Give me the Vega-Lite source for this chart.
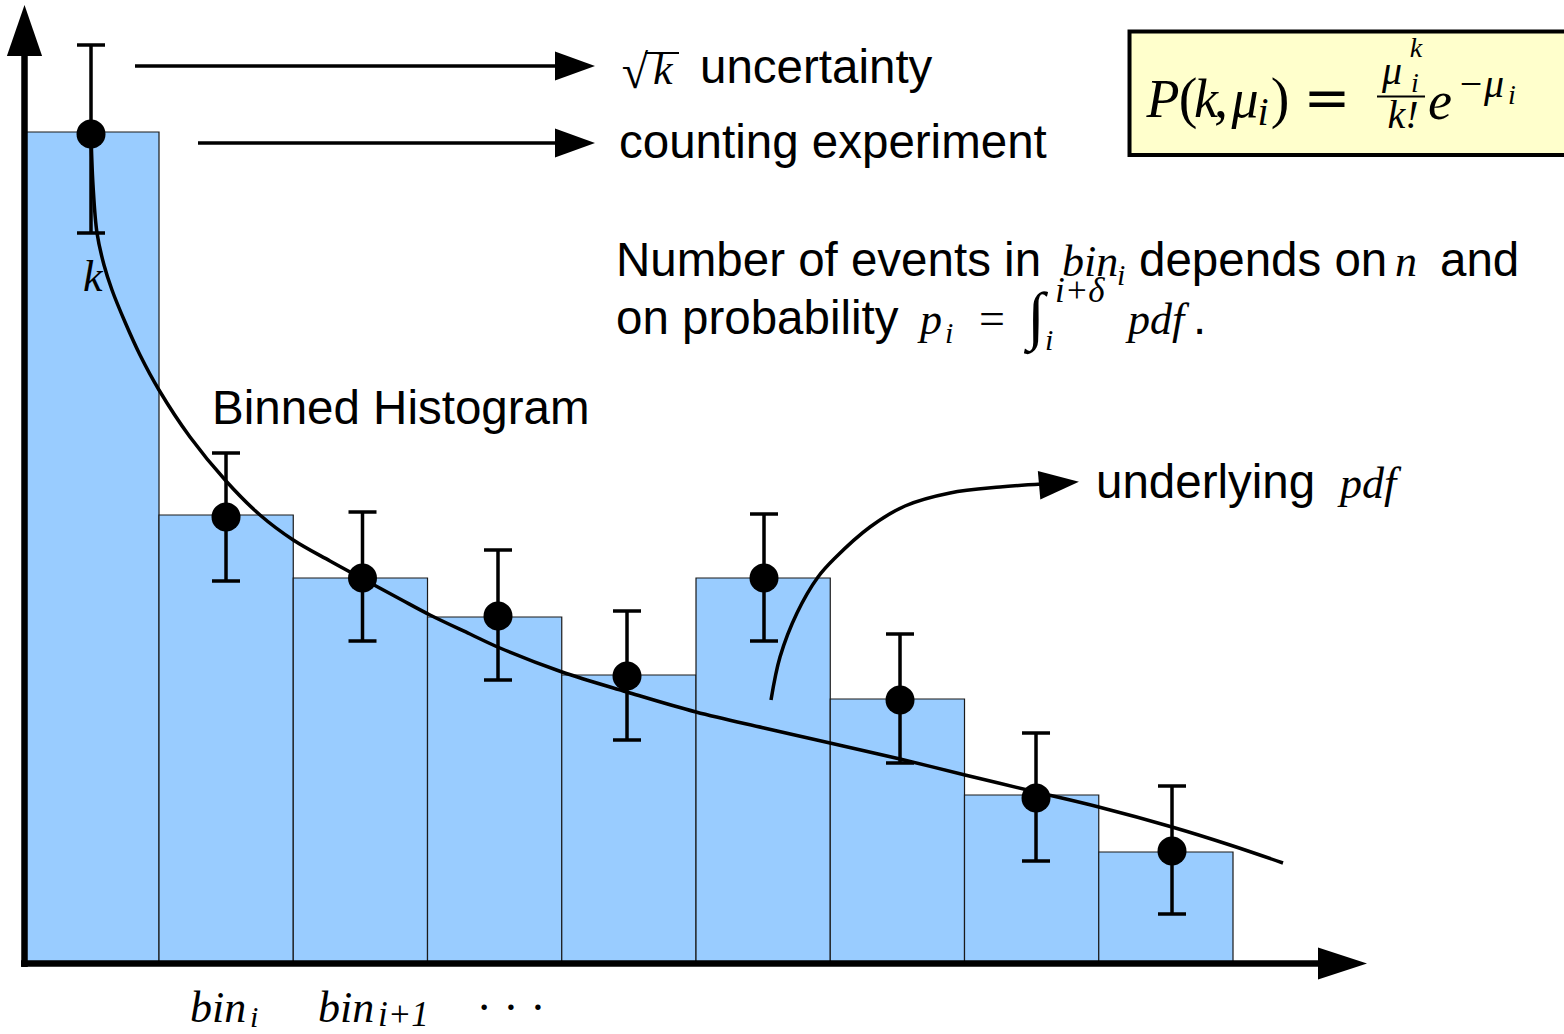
{
  "$schema": "https://vega.github.io/schema/vega-lite/v6.json",
  "width": 1564,
  "height": 1034,
  "autosize": {"type": "none"},
  "padding": 0,
  "background": "white",
  "config": {"view": {"stroke": null}},
  "datasets": {
    "box": [{"x": 8.2291, "x2": 11.7, "y": 93.05, "y2": 80.7}],
    "bars": [
      {"x": 0, "x2": 1, "y": 83.0},
      {"x": 1, "x2": 2, "y": 44.7},
      {"x": 2, "x2": 3, "y": 38.4},
      {"x": 3, "x2": 4, "y": 34.5},
      {"x": 4, "x2": 5, "y": 28.7},
      {"x": 5, "x2": 6, "y": 38.4},
      {"x": 6, "x2": 7, "y": 26.3},
      {"x": 7, "x2": 8, "y": 16.7},
      {"x": 8, "x2": 9, "y": 11.0}
    ],
    "lines": [
      {"kind": "axis", "x": -0.0019, "y": -0.5, "x2": -0.0019, "y2": 90.6},
      {"kind": "axis", "x": -0.0279, "y": -0.15, "x2": 9.648, "y2": -0.15},
      {"kind": "pointer", "x": 0.8212, "y": 89.6, "x2": 3.9572, "y2": 89.6},
      {"kind": "pointer", "x": 1.2905, "y": 81.9, "x2": 3.9572, "y2": 81.9},
      {"kind": "thin", "x": 4.6201, "y": 90.9, "x2": 4.8734, "y2": 90.9},
      {"kind": "thin", "x": 10.0726, "y": 86.55, "x2": 10.4302, "y2": 86.55}
    ],
    "pdf": [
      {"x": 0.4935, "y": 82.8},
      {"x": 0.5084, "y": 77.7},
      {"x": 0.5382, "y": 72.9},
      {"x": 0.5903, "y": 69.7},
      {"x": 0.6499, "y": 67.2},
      {"x": 0.7467, "y": 64.0},
      {"x": 0.8585, "y": 60.7},
      {"x": 1.0, "y": 57.2},
      {"x": 1.2309, "y": 52.5},
      {"x": 1.4991, "y": 48.1},
      {"x": 1.7523, "y": 44.7},
      {"x": 2.0, "y": 42.2},
      {"x": 2.2737, "y": 40.1},
      {"x": 2.5196, "y": 38.3},
      {"x": 2.7952, "y": 36.3},
      {"x": 3.0186, "y": 34.7},
      {"x": 3.3166, "y": 32.8},
      {"x": 3.54, "y": 31.4},
      {"x": 4.0019, "y": 29.0},
      {"x": 4.486, "y": 27.0},
      {"x": 5.0, "y": 25.0},
      {"x": 5.5065, "y": 23.4},
      {"x": 5.9981, "y": 21.9},
      {"x": 6.5196, "y": 20.3},
      {"x": 7.0037, "y": 18.7},
      {"x": 7.5326, "y": 17.0},
      {"x": 8.0, "y": 15.5},
      {"x": 8.5456, "y": 13.5},
      {"x": 8.9777, "y": 11.7},
      {"x": 9.3724, "y": 9.9}
    ],
    "curvedArrow": [
      {"x": 5.5587, "y": 26.2},
      {"x": 5.6257, "y": 30.5},
      {"x": 5.7523, "y": 34.9},
      {"x": 5.9088, "y": 38.5},
      {"x": 6.0354, "y": 40.4},
      {"x": 6.2961, "y": 43.5},
      {"x": 6.5568, "y": 45.6},
      {"x": 6.892, "y": 46.9},
      {"x": 7.2644, "y": 47.5},
      {"x": 7.5773, "y": 47.8}
    ],
    "errors": [
      {"x": 0.4935, "y": 82.8, "lo": 72.9, "hi": 91.7},
      {"x": 1.4991, "y": 44.5, "lo": 38.1, "hi": 50.9},
      {"x": 2.5158, "y": 38.4, "lo": 32.1, "hi": 45.0},
      {"x": 3.5251, "y": 34.6, "lo": 28.2, "hi": 41.2},
      {"x": 4.486, "y": 28.6, "lo": 22.2, "hi": 35.1},
      {"x": 5.5065, "y": 38.4, "lo": 32.1, "hi": 44.8},
      {"x": 6.5196, "y": 26.2, "lo": 19.9, "hi": 32.8},
      {"x": 7.5326, "y": 16.4, "lo": 10.1, "hi": 22.9},
      {"x": 8.5456, "y": 11.1, "lo": 4.8, "hi": 17.6}
    ],
    "heads": [
      {"dir": "up", "x": -0.0019, "y": 93.15},
      {"dir": "xaxis", "x": 9.8156, "y": -0.15},
      {"dir": "pointer", "x": 4.0987, "y": 89.6},
      {"dir": "pointer", "x": 4.0987, "y": 81.9},
      {"dir": "curved", "x": 7.7039, "y": 47.85}
    ],
    "texts": [
      {"kind": "label", "t": "uncertainty", "x": 5.0298, "y": 87.9},
      {"kind": "label", "t": "counting experiment", "x": 4.4265, "y": 80.4},
      {"kind": "label", "t": "Number of events in", "x": 4.4041, "y": 68.6},
      {"kind": "label", "t": "depends on", "x": 8.2998, "y": 68.6},
      {"kind": "label", "t": "and", "x": 10.5419, "y": 68.6},
      {"kind": "label", "t": "on probability", "x": 4.4041, "y": 62.8},
      {"kind": "label", "t": ".", "x": 8.702, "y": 62.8},
      {"kind": "label", "t": "Binned Histogram", "x": 1.3948, "y": 53.8},
      {"kind": "label", "t": "underlying", "x": 7.9795, "y": 46.4},
      {"kind": "math", "t": "k", "x": 4.6797, "y": 87.8},
      {"kind": "math", "t": "k", "x": 0.4339, "y": 67.1},
      {"kind": "math", "t": "bin", "x": 7.7263, "y": 68.6},
      {"kind": "math", "t": "n", "x": 10.2067, "y": 68.6},
      {"kind": "math", "t": "p", "x": 6.6685, "y": 62.8},
      {"kind": "math", "t": "pdf", "x": 8.2179, "y": 62.8},
      {"kind": "math", "t": "pdf", "x": 9.797, "y": 46.4},
      {"kind": "math", "t": "bin", "x": 1.2309, "y": -6.0},
      {"kind": "math", "t": "bin", "x": 2.1844, "y": -6.0},
      {"kind": "sub", "t": "i", "x": 8.1359, "y": 67.7},
      {"kind": "sub", "t": "i", "x": 6.8547, "y": 61.9},
      {"kind": "sup", "t": "i+δ", "x": 7.6741, "y": 66.0},
      {"kind": "sub", "t": "i", "x": 7.5996, "y": 61.2},
      {"kind": "sub", "t": "i", "x": 1.6778, "y": -6.5},
      {"kind": "sup", "t": "i+1", "x": 2.6313, "y": -6.4},
      {"kind": "op", "t": "=", "x": 7.2048, "y": 62.8},
      {"kind": "op", "t": "· · ·", "x": 3.622, "y": -6.1},
      {"kind": "rad", "t": "√", "x": 4.5456, "y": 87.4},
      {"kind": "int", "t": "∫", "x": 7.5326, "y": 62.5},
      {"kind": "fmath", "t": "P", "x": 8.4786, "y": 84.5},
      {"kind": "fmath", "t": "k", "x": 8.7989, "y": 84.5},
      {"kind": "fmath", "t": "μ", "x": 9.0894, "y": 84.5},
      {"kind": "fmath", "t": "e", "x": 10.5419, "y": 84.3},
      {"kind": "fop", "t": "(", "x": 8.6648, "y": 84.5},
      {"kind": "fop", "t": ",", "x": 8.9106, "y": 84.5},
      {"kind": "fop", "t": ")", "x": 9.3501, "y": 84.5},
      {"kind": "feq", "t": "=", "x": 9.7002, "y": 84.5},
      {"kind": "fsmall", "t": "i", "x": 9.2235, "y": 83.7},
      {"kind": "fsmall", "t": "μ", "x": 10.1844, "y": 87.8},
      {"kind": "fsmall", "t": "k!", "x": 10.2663, "y": 83.4},
      {"kind": "fsmall", "t": "μ", "x": 10.9441, "y": 86.5},
      {"kind": "fminus", "t": "−", "x": 10.7728, "y": 86.5},
      {"kind": "fscript", "t": "k", "x": 10.3631, "y": 90.5},
      {"kind": "fscript", "t": "i", "x": 10.3557, "y": 87.0},
      {"kind": "fscript", "t": "i", "x": 11.0782, "y": 85.8}
    ]
  },
  "layer": [
    {
      "data": {"name": "box"},
      "mark": {"type": "rect", "fill": "#ffffcc", "stroke": "black", "strokeWidth": 4},
      "encoding": {
        "x": {"field": "x", "type": "quantitative", "scale": {"type": "linear", "domain": [-0.1844, 11.4655], "nice": false, "zero": false}, "axis": null},
        "x2": {"field": "x2"},
        "y": {"field": "y", "type": "quantitative", "scale": {"type": "linear", "domain": [-7.2, 96.2], "nice": false, "zero": false}, "axis": null},
        "y2": {"field": "y2"}
      }
    },
    {
      "data": {"name": "bars"},
      "mark": {"type": "rect", "fill": "#99ccff", "stroke": "#1a1a1a", "strokeWidth": 1.2},
      "encoding": {
        "x": {"field": "x", "type": "quantitative", "scale": {"type": "linear", "domain": [-0.1844, 11.4655], "nice": false, "zero": false}, "axis": null},
        "x2": {"field": "x2"},
        "y": {"field": "y", "type": "quantitative", "scale": {"type": "linear", "domain": [-7.2, 96.2], "nice": false, "zero": false}, "axis": null},
        "y2": {"datum": 0}
      }
    },
    {
      "data": {"name": "pdf"},
      "mark": {"type": "line", "color": "black", "strokeWidth": 3.5, "interpolate": "catmull-rom"},
      "encoding": {
        "x": {"field": "x", "type": "quantitative", "scale": {"type": "linear", "domain": [-0.1844, 11.4655], "nice": false, "zero": false}, "axis": null},
        "y": {"field": "y", "type": "quantitative", "scale": {"type": "linear", "domain": [-7.2, 96.2], "nice": false, "zero": false}, "axis": null}
      }
    },
    {
      "data": {"name": "curvedArrow"},
      "mark": {"type": "line", "color": "black", "strokeWidth": 3.5, "interpolate": "catmull-rom"},
      "encoding": {
        "x": {"field": "x", "type": "quantitative", "scale": {"type": "linear", "domain": [-0.1844, 11.4655], "nice": false, "zero": false}, "axis": null},
        "y": {"field": "y", "type": "quantitative", "scale": {"type": "linear", "domain": [-7.2, 96.2], "nice": false, "zero": false}, "axis": null}
      }
    },
    {
      "data": {"name": "lines"},
      "transform": [{"filter": "datum.kind === 'axis'"}],
      "mark": {"type": "rule", "color": "black", "strokeWidth": 6.5},
      "encoding": {
        "x": {"field": "x", "type": "quantitative", "scale": {"type": "linear", "domain": [-0.1844, 11.4655], "nice": false, "zero": false}, "axis": null},
        "x2": {"field": "x2"},
        "y": {"field": "y", "type": "quantitative", "scale": {"type": "linear", "domain": [-7.2, 96.2], "nice": false, "zero": false}, "axis": null},
        "y2": {"field": "y2"}
      }
    },
    {
      "data": {"name": "lines"},
      "transform": [{"filter": "datum.kind === 'pointer'"}],
      "mark": {"type": "rule", "color": "black", "strokeWidth": 3.5},
      "encoding": {
        "x": {"field": "x", "type": "quantitative", "scale": {"type": "linear", "domain": [-0.1844, 11.4655], "nice": false, "zero": false}, "axis": null},
        "x2": {"field": "x2"},
        "y": {"field": "y", "type": "quantitative", "scale": {"type": "linear", "domain": [-7.2, 96.2], "nice": false, "zero": false}, "axis": null},
        "y2": {"field": "y2"}
      }
    },
    {
      "data": {"name": "lines"},
      "transform": [{"filter": "datum.kind === 'thin'"}],
      "mark": {"type": "rule", "color": "black", "strokeWidth": 2.2},
      "encoding": {
        "x": {"field": "x", "type": "quantitative", "scale": {"type": "linear", "domain": [-0.1844, 11.4655], "nice": false, "zero": false}, "axis": null},
        "x2": {"field": "x2"},
        "y": {"field": "y", "type": "quantitative", "scale": {"type": "linear", "domain": [-7.2, 96.2], "nice": false, "zero": false}, "axis": null},
        "y2": {"field": "y2"}
      }
    },
    {
      "data": {"name": "errors"},
      "mark": {"type": "rule", "color": "black", "strokeWidth": 3.5},
      "encoding": {
        "x": {"field": "x", "type": "quantitative", "scale": {"type": "linear", "domain": [-0.1844, 11.4655], "nice": false, "zero": false}, "axis": null},
        "y": {"field": "lo", "type": "quantitative", "scale": {"type": "linear", "domain": [-7.2, 96.2], "nice": false, "zero": false}, "axis": null},
        "y2": {"field": "hi"}
      }
    },
    {
      "data": {"name": "errors"},
      "mark": {"type": "tick", "orient": "horizontal", "size": 28, "thickness": 3.5, "color": "black", "opacity": 1},
      "encoding": {
        "x": {"field": "x", "type": "quantitative", "scale": {"type": "linear", "domain": [-0.1844, 11.4655], "nice": false, "zero": false}, "axis": null},
        "y": {"field": "lo", "type": "quantitative", "scale": {"type": "linear", "domain": [-7.2, 96.2], "nice": false, "zero": false}, "axis": null}
      }
    },
    {
      "data": {"name": "errors"},
      "mark": {"type": "tick", "orient": "horizontal", "size": 28, "thickness": 3.5, "color": "black", "opacity": 1},
      "encoding": {
        "x": {"field": "x", "type": "quantitative", "scale": {"type": "linear", "domain": [-0.1844, 11.4655], "nice": false, "zero": false}, "axis": null},
        "y": {"field": "hi", "type": "quantitative", "scale": {"type": "linear", "domain": [-7.2, 96.2], "nice": false, "zero": false}, "axis": null}
      }
    },
    {
      "data": {"name": "errors"},
      "mark": {"type": "point", "shape": "circle", "filled": true, "size": 841, "color": "black", "opacity": 1, "strokeWidth": 0},
      "encoding": {
        "x": {"field": "x", "type": "quantitative", "scale": {"type": "linear", "domain": [-0.1844, 11.4655], "nice": false, "zero": false}, "axis": null},
        "y": {"field": "y", "type": "quantitative", "scale": {"type": "linear", "domain": [-7.2, 96.2], "nice": false, "zero": false}, "axis": null}
      }
    },
    {
      "data": {"name": "heads"},
      "transform": [{"filter": "datum.dir === 'up'"}],
      "mark": {"type": "point", "shape": "M 0 -1 L 0.69 1 L -0.69 1 Z", "filled": true, "size": 2601, "color": "black", "opacity": 1, "strokeWidth": 0},
      "encoding": {
        "x": {"field": "x", "type": "quantitative", "scale": {"type": "linear", "domain": [-0.1844, 11.4655], "nice": false, "zero": false}, "axis": null},
        "y": {"field": "y", "type": "quantitative", "scale": {"type": "linear", "domain": [-7.2, 96.2], "nice": false, "zero": false}, "axis": null}
      }
    },
    {
      "data": {"name": "heads"},
      "transform": [{"filter": "datum.dir === 'xaxis'"}],
      "mark": {"type": "point", "shape": "M 1 0 L -1 -0.65 L -1 0.65 Z", "filled": true, "size": 2401, "color": "black", "opacity": 1, "strokeWidth": 0},
      "encoding": {
        "x": {"field": "x", "type": "quantitative", "scale": {"type": "linear", "domain": [-0.1844, 11.4655], "nice": false, "zero": false}, "axis": null},
        "y": {"field": "y", "type": "quantitative", "scale": {"type": "linear", "domain": [-7.2, 96.2], "nice": false, "zero": false}, "axis": null}
      }
    },
    {
      "data": {"name": "heads"},
      "transform": [{"filter": "datum.dir === 'pointer'"}],
      "mark": {"type": "point", "shape": "M 1 0 L -1 -0.72 L -1 0.72 Z", "filled": true, "size": 1600, "color": "black", "opacity": 1, "strokeWidth": 0},
      "encoding": {
        "x": {"field": "x", "type": "quantitative", "scale": {"type": "linear", "domain": [-0.1844, 11.4655], "nice": false, "zero": false}, "axis": null},
        "y": {"field": "y", "type": "quantitative", "scale": {"type": "linear", "domain": [-7.2, 96.2], "nice": false, "zero": false}, "axis": null}
      }
    },
    {
      "data": {"name": "heads"},
      "transform": [{"filter": "datum.dir === 'curved'"}],
      "mark": {"type": "point", "shape": "M 1 0 L -1 -0.72 L -1 0.72 Z", "filled": true, "size": 1600, "angle": -5, "color": "black", "opacity": 1, "strokeWidth": 0},
      "encoding": {
        "x": {"field": "x", "type": "quantitative", "scale": {"type": "linear", "domain": [-0.1844, 11.4655], "nice": false, "zero": false}, "axis": null},
        "y": {"field": "y", "type": "quantitative", "scale": {"type": "linear", "domain": [-7.2, 96.2], "nice": false, "zero": false}, "axis": null}
      }
    },
    {
      "data": {"name": "texts"},
      "transform": [{"filter": "datum.kind === 'label'"}],
      "mark": {"type": "text", "font": "Liberation Sans", "fontSize": 47.5, "align": "left", "baseline": "alphabetic", "color": "black"},
      "encoding": {
        "x": {"field": "x", "type": "quantitative", "scale": {"type": "linear", "domain": [-0.1844, 11.4655], "nice": false, "zero": false}, "axis": null},
        "y": {"field": "y", "type": "quantitative", "scale": {"type": "linear", "domain": [-7.2, 96.2], "nice": false, "zero": false}, "axis": null},
        "text": {"field": "t"}
      }
    },
    {
      "data": {"name": "texts"},
      "transform": [{"filter": "datum.kind === 'math'"}],
      "mark": {"type": "text", "font": "Liberation Serif", "fontStyle": "italic", "fontSize": 44, "align": "left", "baseline": "alphabetic", "color": "black"},
      "encoding": {
        "x": {"field": "x", "type": "quantitative", "scale": {"type": "linear", "domain": [-0.1844, 11.4655], "nice": false, "zero": false}, "axis": null},
        "y": {"field": "y", "type": "quantitative", "scale": {"type": "linear", "domain": [-7.2, 96.2], "nice": false, "zero": false}, "axis": null},
        "text": {"field": "t"}
      }
    },
    {
      "data": {"name": "texts"},
      "transform": [{"filter": "datum.kind === 'sub'"}],
      "mark": {"type": "text", "font": "Liberation Serif", "fontStyle": "italic", "fontSize": 30, "align": "left", "baseline": "alphabetic", "color": "black"},
      "encoding": {
        "x": {"field": "x", "type": "quantitative", "scale": {"type": "linear", "domain": [-0.1844, 11.4655], "nice": false, "zero": false}, "axis": null},
        "y": {"field": "y", "type": "quantitative", "scale": {"type": "linear", "domain": [-7.2, 96.2], "nice": false, "zero": false}, "axis": null},
        "text": {"field": "t"}
      }
    },
    {
      "data": {"name": "texts"},
      "transform": [{"filter": "datum.kind === 'sup'"}],
      "mark": {"type": "text", "font": "Liberation Serif", "fontStyle": "italic", "fontSize": 35, "align": "left", "baseline": "alphabetic", "color": "black"},
      "encoding": {
        "x": {"field": "x", "type": "quantitative", "scale": {"type": "linear", "domain": [-0.1844, 11.4655], "nice": false, "zero": false}, "axis": null},
        "y": {"field": "y", "type": "quantitative", "scale": {"type": "linear", "domain": [-7.2, 96.2], "nice": false, "zero": false}, "axis": null},
        "text": {"field": "t"}
      }
    },
    {
      "data": {"name": "texts"},
      "transform": [{"filter": "datum.kind === 'op'"}],
      "mark": {"type": "text", "font": "Liberation Serif", "fontSize": 46, "align": "center", "baseline": "alphabetic", "color": "black"},
      "encoding": {
        "x": {"field": "x", "type": "quantitative", "scale": {"type": "linear", "domain": [-0.1844, 11.4655], "nice": false, "zero": false}, "axis": null},
        "y": {"field": "y", "type": "quantitative", "scale": {"type": "linear", "domain": [-7.2, 96.2], "nice": false, "zero": false}, "axis": null},
        "text": {"field": "t"}
      }
    },
    {
      "data": {"name": "texts"},
      "transform": [{"filter": "datum.kind === 'rad'"}],
      "mark": {"type": "text", "font": "Liberation Serif", "fontSize": 48, "align": "center", "baseline": "alphabetic", "color": "black"},
      "encoding": {
        "x": {"field": "x", "type": "quantitative", "scale": {"type": "linear", "domain": [-0.1844, 11.4655], "nice": false, "zero": false}, "axis": null},
        "y": {"field": "y", "type": "quantitative", "scale": {"type": "linear", "domain": [-7.2, 96.2], "nice": false, "zero": false}, "axis": null},
        "text": {"field": "t"}
      }
    },
    {
      "data": {"name": "texts"},
      "transform": [{"filter": "datum.kind === 'int'"}],
      "mark": {"type": "text", "font": "Liberation Serif", "fontSize": 64, "align": "center", "baseline": "alphabetic", "color": "black"},
      "encoding": {
        "x": {"field": "x", "type": "quantitative", "scale": {"type": "linear", "domain": [-0.1844, 11.4655], "nice": false, "zero": false}, "axis": null},
        "y": {"field": "y", "type": "quantitative", "scale": {"type": "linear", "domain": [-7.2, 96.2], "nice": false, "zero": false}, "axis": null},
        "text": {"field": "t"}
      }
    },
    {
      "data": {"name": "texts"},
      "transform": [{"filter": "datum.kind === 'fmath'"}],
      "mark": {"type": "text", "font": "Liberation Serif", "fontStyle": "italic", "fontSize": 54, "align": "center", "baseline": "alphabetic", "color": "black"},
      "encoding": {
        "x": {"field": "x", "type": "quantitative", "scale": {"type": "linear", "domain": [-0.1844, 11.4655], "nice": false, "zero": false}, "axis": null},
        "y": {"field": "y", "type": "quantitative", "scale": {"type": "linear", "domain": [-7.2, 96.2], "nice": false, "zero": false}, "axis": null},
        "text": {"field": "t"}
      }
    },
    {
      "data": {"name": "texts"},
      "transform": [{"filter": "datum.kind === 'fop'"}],
      "mark": {"type": "text", "font": "Liberation Serif", "fontSize": 56, "align": "center", "baseline": "alphabetic", "color": "black"},
      "encoding": {
        "x": {"field": "x", "type": "quantitative", "scale": {"type": "linear", "domain": [-0.1844, 11.4655], "nice": false, "zero": false}, "axis": null},
        "y": {"field": "y", "type": "quantitative", "scale": {"type": "linear", "domain": [-7.2, 96.2], "nice": false, "zero": false}, "axis": null},
        "text": {"field": "t"}
      }
    },
    {
      "data": {"name": "texts"},
      "transform": [{"filter": "datum.kind === 'feq'"}],
      "mark": {"type": "text", "font": "DejaVu Sans", "fontSize": 56, "align": "center", "baseline": "alphabetic", "color": "black"},
      "encoding": {
        "x": {"field": "x", "type": "quantitative", "scale": {"type": "linear", "domain": [-0.1844, 11.4655], "nice": false, "zero": false}, "axis": null},
        "y": {"field": "y", "type": "quantitative", "scale": {"type": "linear", "domain": [-7.2, 96.2], "nice": false, "zero": false}, "axis": null},
        "text": {"field": "t"}
      }
    },
    {
      "data": {"name": "texts"},
      "transform": [{"filter": "datum.kind === 'fsmall'"}],
      "mark": {"type": "text", "font": "Liberation Serif", "fontStyle": "italic", "fontSize": 40, "align": "center", "baseline": "alphabetic", "color": "black"},
      "encoding": {
        "x": {"field": "x", "type": "quantitative", "scale": {"type": "linear", "domain": [-0.1844, 11.4655], "nice": false, "zero": false}, "axis": null},
        "y": {"field": "y", "type": "quantitative", "scale": {"type": "linear", "domain": [-7.2, 96.2], "nice": false, "zero": false}, "axis": null},
        "text": {"field": "t"}
      }
    },
    {
      "data": {"name": "texts"},
      "transform": [{"filter": "datum.kind === 'fminus'"}],
      "mark": {"type": "text", "font": "Liberation Serif", "fontSize": 40, "align": "center", "baseline": "alphabetic", "color": "black"},
      "encoding": {
        "x": {"field": "x", "type": "quantitative", "scale": {"type": "linear", "domain": [-0.1844, 11.4655], "nice": false, "zero": false}, "axis": null},
        "y": {"field": "y", "type": "quantitative", "scale": {"type": "linear", "domain": [-7.2, 96.2], "nice": false, "zero": false}, "axis": null},
        "text": {"field": "t"}
      }
    },
    {
      "data": {"name": "texts"},
      "transform": [{"filter": "datum.kind === 'fscript'"}],
      "mark": {"type": "text", "font": "Liberation Serif", "fontStyle": "italic", "fontSize": 28, "align": "center", "baseline": "alphabetic", "color": "black"},
      "encoding": {
        "x": {"field": "x", "type": "quantitative", "scale": {"type": "linear", "domain": [-0.1844, 11.4655], "nice": false, "zero": false}, "axis": null},
        "y": {"field": "y", "type": "quantitative", "scale": {"type": "linear", "domain": [-7.2, 96.2], "nice": false, "zero": false}, "axis": null},
        "text": {"field": "t"}
      }
    }
  ]
}
